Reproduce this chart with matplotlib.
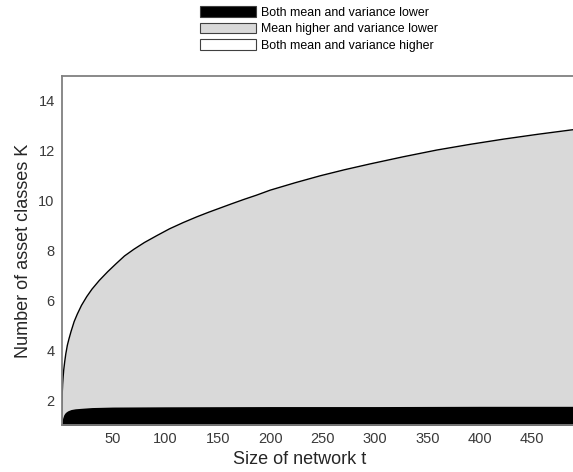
import numpy as np
import matplotlib
matplotlib.use("Agg")
import matplotlib.pyplot as plt
from matplotlib.patches import Patch

plt.rcParams["font.family"] = ["Liberation Sans", "DejaVu Sans"]

# upper boundary (top of "mean higher and variance lower" region)
t_upper = [1, 1.2, 1.5, 2, 2.5, 3, 4, 5, 6.5, 8, 10, 13, 16, 20, 25, 30, 37, 45,
           53, 61, 70, 80, 92, 104, 117, 130, 141, 152, 163, 175, 187, 200, 224,
           248, 271, 295, 327, 359, 391, 423, 455, 486, 500]
k_upper = [1.0, 1.8, 2.2, 2.65, 2.95, 3.2, 3.55, 3.85, 4.2, 4.45, 4.75, 5.15, 5.45,
           5.8, 6.15, 6.45, 6.8, 7.15, 7.47, 7.78, 8.05, 8.32, 8.6, 8.87, 9.12,
           9.35, 9.53, 9.7, 9.87, 10.05, 10.22, 10.42, 10.72, 11.0, 11.24, 11.47,
           11.76, 12.03, 12.26, 12.47, 12.66, 12.83, 12.9]

# lower boundary (top of "both mean and variance lower" region)
t_lower = [1, 1.5, 2, 3, 4, 5.5, 7, 10, 14, 20, 30, 50, 100, 200, 300, 400, 500]
k_lower = [1.0, 1.15, 1.27, 1.4, 1.47, 1.53, 1.57, 1.62, 1.65, 1.67, 1.70, 1.72,
           1.73, 1.74, 1.74, 1.75, 1.75]

legend_labels = ["Both mean and variance lower",
                 "Mean higher and variance lower",
                 "Both mean and variance higher"]

x_ticks = [50, 100, 150, 200, 250, 300, 350, 400, 450]
y_ticks = [2, 4, 6, 8, 10, 12, 14]

fig = plt.figure(figsize=(5.73, 4.72), dpi=100)
# axes run past the right edge of the figure, like the cropped original
ax_left, ax_w = 61.6 / 573, 523 / 573
ax = fig.add_axes([ax_left, 47 / 472, ax_w, 349 / 472])

ax.fill_between(t_upper, 0, k_upper, color="#d9d9d9", lw=0)
ax.plot(t_upper, k_upper, color="black", lw=1.0)
ax.fill_between(t_lower, 0, k_lower, color="black", lw=0)

ax.set_xlim(1, 500)
ax.set_ylim(1, 15)
ax.set_xticks(x_ticks)
ax.set_yticks(y_ticks)
ax.tick_params(length=0, labelsize=10.5, labelcolor="#3a3a3a", pad=5)
for s in ax.spines.values():
    s.set_color("#808080")
    s.set_linewidth(1.3)

ax.set_xlabel("Size of network t", fontsize=13, color="#262626")
ax.set_ylabel("Number of asset classes K", fontsize=13, color="#262626")
# label centres as placed in the original (x label sits left of axes centre)
ax.xaxis.set_label_coords((300 / 573 - ax_left) / ax_w, -0.075)
ax.yaxis.set_label_coords(-0.056, 0.5)

handles = [Patch(facecolor="black", edgecolor="#404040", lw=0.8),
           Patch(facecolor="#d9d9d9", edgecolor="#404040", lw=0.8),
           Patch(facecolor="white", edgecolor="#404040", lw=0.8)]
fig.legend(handles, legend_labels, loc="upper left", bbox_to_anchor=(190 / 573, 1.008),
           frameon=False, fontsize=8.9, handlelength=4.5, handleheight=0.95,
           handletextpad=0.45, labelspacing=0.32, borderpad=0.3)

plt.savefig("out.png", dpi=100)
